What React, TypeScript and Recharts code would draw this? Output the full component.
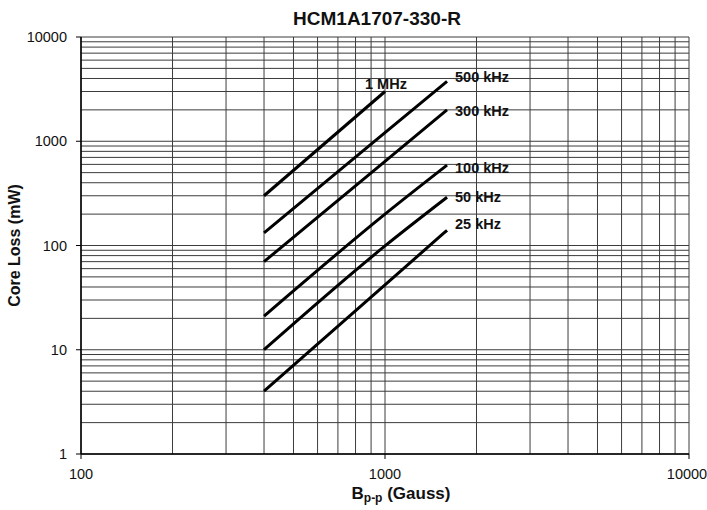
import React from 'react';
import { LineChart, Line, XAxis, YAxis, CartesianGrid, LabelList } from 'recharts';

// B p-p (Gauss) sample points
const bField1M = [400, 1000];
const bField = [400, 1000, 1600];

// core loss (mW) per frequency
const loss1M = [300, 3000];
const loss500k = [132, 1210, 3750];
const loss300k = [70, 640, 2000];
const loss100k = [21, 200, 590];
const loss50k = [10, 99, 290];
const loss25k = [4, 42, 140];

const seriesNames = ['1 MHz', '500 kHz', '300 kHz', '100 kHz', '50 kHz', '25 kHz'];

const xTicks = [100, 200, 300, 400, 500, 600, 700, 800, 900, 1000, 2000, 3000, 4000, 5000, 6000, 7000, 8000, 9000, 10000];
const yTicks = [
  1, 2, 3, 4, 5, 6, 7, 8, 9,
  10, 20, 30, 40, 50, 60, 70, 80, 90,
  100, 200, 300, 400, 500, 600, 700, 800, 900,
  1000, 2000, 3000, 4000, 5000, 6000, 7000, 8000, 9000,
  10000,
];
const decades = [1, 10, 100, 1000, 10000];

const toPoints = (xs: number[], ys: number[]) => xs.map((b, i) => ({ b, loss: ys[i] }));

const series = [
  { name: seriesNames[0], data: toPoints(bField1M, loss1M), dx: -20, dy: -8 },
  { name: seriesNames[1], data: toPoints(bField, loss500k), dx: 8, dy: -4 },
  { name: seriesNames[2], data: toPoints(bField, loss300k), dx: 8, dy: 1 },
  { name: seriesNames[3], data: toPoints(bField, loss100k), dx: 8, dy: 3 },
  { name: seriesNames[4], data: toPoints(bField, loss50k), dx: 8, dy: 0 },
  { name: seriesNames[5], data: toPoints(bField, loss25k), dx: 8, dy: -6 },
];

const font = '"Liberation Sans", Arial, sans-serif';

const XTick: React.FC<any> = ({ x, y, payload }) => {
  if (!decades.includes(payload.value)) return null;
  // keep the last label inside the page
  const tx = Math.min(x, 706 - 19);
  return (
    <g>
      <line x1={x} y1={y} x2={x} y2={y + 5} stroke="#000" strokeWidth={1} />
      <text x={tx} y={y + 20} textAnchor="middle" dominantBaseline="central" fontSize={14.5} fontFamily={font} fill="#111">
        {payload.value}
      </text>
    </g>
  );
};

const YTick: React.FC<any> = ({ x, y, payload }) => {
  if (!decades.includes(payload.value)) return null;
  return (
    <g>
      <line x1={x - 5} y1={y} x2={x} y2={y} stroke="#000" strokeWidth={1} />
      <text x={x - 14} y={y} textAnchor="end" dominantBaseline="central" fontSize={14.5} fontFamily={font} fill="#111">
        {payload.value}
      </text>
    </g>
  );
};

const makeEndLabel = (count: number, text: string, dx: number, dy: number) => (props: any) => {
  const { x, y, index } = props;
  if (index !== count - 1) return null;
  return (
    <text x={x + dx} y={y + dy} dominantBaseline="central" fontSize={14.5} fontWeight="bold" fontFamily={font} fill="#111">
      {text}
    </text>
  );
};

const YTitle: React.FC<any> = ({ viewBox }) => {
  const cy = viewBox.y + viewBox.height / 2;
  return (
    <text x={14} y={cy} transform={`rotate(-90 14 ${cy})`} textAnchor="middle" dominantBaseline="central" fontSize={16} fontWeight="bold" fontFamily={font} fill="#111">
      Core Loss (mW)
    </text>
  );
};

const XTitle: React.FC<any> = ({ viewBox }) => {
  const cx = viewBox.x + viewBox.width / 2 + 16;
  return (
    <text x={cx} y={viewBox.y + 39} textAnchor="middle" dominantBaseline="central" fontSize={17} fontWeight="bold" fontFamily={font} fill="#111">
      B<tspan fontSize={12} dy={5}>p-p</tspan>
      <tspan dy={-5}> (Gauss)</tspan>
    </text>
  );
};

export default function App() {
  return (
    <div style={{ position: 'absolute', left: 0, top: 0, width: 707, height: 510, background: '#fff' }}>
      <div style={{ position: 'absolute', top: 9, left: 277, width: 200, textAlign: 'center', fontFamily: font, fontWeight: 'bold', fontSize: 19, lineHeight: '20px', color: '#111' }}>
        HCM1A1707-330-R
      </div>
      <LineChart width={707} height={510} margin={{ top: 37, right: 18, bottom: 0, left: 0 }}>
        <CartesianGrid stroke="#3c3c3c" strokeWidth={1} />
        <XAxis
          type="number"
          dataKey="b"
          scale="log"
          domain={[100, 10000]}
          ticks={xTicks}
          interval={0}
          allowDataOverflow
          height={56}
          tickSize={0}
          tickMargin={0}
          tickLine={false}
          axisLine={{ stroke: '#000', strokeWidth: 1.5 }}
          tick={<XTick />}
          label={<XTitle />}
        />
        <YAxis
          type="number"
          dataKey="loss"
          scale="log"
          domain={[1, 10000]}
          ticks={yTicks}
          interval={0}
          allowDataOverflow
          width={81}
          tickSize={0}
          tickMargin={0}
          tickLine={false}
          axisLine={{ stroke: '#000', strokeWidth: 1.5 }}
          tick={<YTick />}
          label={<YTitle />}
        />
        {series.map((s) => (
          <Line
            key={s.name}
            data={s.data}
            dataKey="loss"
            type="monotone"
            stroke="#000"
            strokeWidth={3}
            dot={false}
            activeDot={false}
            isAnimationActive={false}
          >
            <LabelList dataKey="loss" content={makeEndLabel(s.data.length, s.name, s.dx, s.dy)} />
          </Line>
        ))}
      </LineChart>
    </div>
  );
}
